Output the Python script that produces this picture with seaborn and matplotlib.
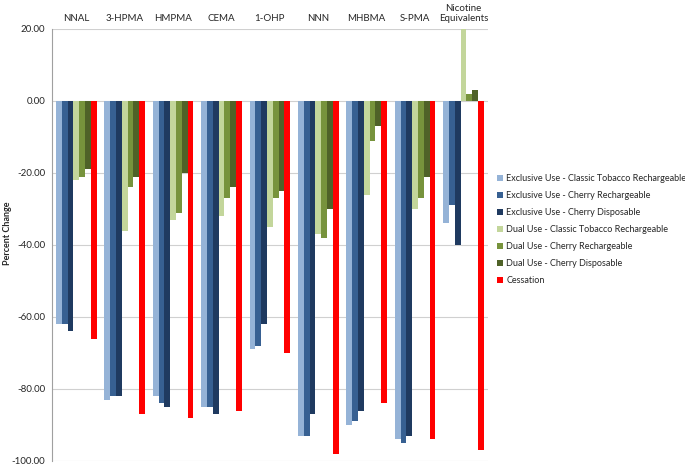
import pandas as pd
import matplotlib
matplotlib.use("Agg")
import matplotlib.pyplot as plt
import seaborn as sns

# Biomarkers (categories along the top)
biomarkers = ["NNAL", "3-HPMA", "HMPMA", "CEMA", "1-OHP", "NNN", "MHBMA", "S-PMA",
              "Nicotine\nEquivalents"]

groups = [
    "Exclusive Use - Classic Tobacco Rechargeable",
    "Exclusive Use - Cherry Rechargeable",
    "Exclusive Use - Cherry Disposable",
    "Dual Use - Classic Tobacco Rechargeable",
    "Dual Use - Cherry Rechargeable",
    "Dual Use - Cherry Disposable",
    "Cessation",
]

# Percent change per group, one value per biomarker
excl_classic = [-62, -83, -82, -85, -69, -93, -90, -94, -34]
excl_cherry_rech = [-62, -82, -84, -85, -68, -93, -89, -95, -29]
excl_cherry_disp = [-64, -82, -85, -87, -62, -87, -86, -93, -40]
dual_classic = [-22, -36, -33, -32, -35, -37, -26, -30, 20]
dual_cherry_rech = [-21, -24, -31, -27, -27, -38, -11, -27, 2]
dual_cherry_disp = [-19, -21, -20, -24, -25, -30, -7, -21, 3]
cessation = [-66, -87, -88, -86, -70, -98, -84, -94, -97]

series = [excl_classic, excl_cherry_rech, excl_cherry_disp,
          dual_classic, dual_cherry_rech, dual_cherry_disp, cessation]

colors = ["#95B3D7", "#376092", "#1F3A60", "#C3D69B", "#77933C", "#4F6228", "#FF0000"]

rows = []
for g, vals in zip(groups, series):
    for b, v in zip(biomarkers, vals):
        rows.append({"Biomarker": b, "Group": g, "Change": v})
df = pd.DataFrame(rows)

sns.set_style("white")
plt.rcParams["font.family"] = ["Lato", "DejaVu Sans"]

fig = plt.figure(figsize=(6.85, 4.67), dpi=100)
ax = fig.add_axes([0.076, 0.013, 0.636, 0.925])

sns.barplot(data=df, x="Biomarker", y="Change", hue="Group", order=biomarkers,
            hue_order=groups, palette=colors, width=0.84, gap=0,
            saturation=1, linewidth=0, edgecolor="none", ax=ax, legend=True)

ax.set_ylim(-100, 20)
ax.set_xlim(-0.5, len(biomarkers) - 0.5)
ax.set_yticks(range(-100, 21, 20))
ax.set_yticklabels([f"{v:.2f}" for v in range(-100, 21, 20)], fontsize=7)
ax.yaxis.grid(True, color="#D0D0D0", linewidth=0.8)
ax.set_axisbelow(True)

ax.xaxis.tick_top()
ax.tick_params(axis="x", length=0, labelsize=7, pad=4)
ax.tick_params(axis="y", length=3, color="#A0A0A0", pad=2)
ax.set_xlabel("")
ax.set_ylabel("")
fig.text(0.005, 0.5, "Percent Change", rotation=90, va="center", ha="left",
         fontsize=6.5, fontweight="bold")

for s in ["top", "right", "bottom"]:
    ax.spines[s].set_visible(False)
ax.spines["left"].set_color("#A0A0A0")
ax.spines["left"].set_linewidth(0.8)

handles, labels = ax.get_legend_handles_labels()
ax.legend(handles, labels, loc="upper left", bbox_to_anchor=(1.012, 0.672),
          frameon=False, fontsize=6.5, handlelength=0.7, handleheight=0.7,
          handletextpad=0.4, labelspacing=0.88, borderaxespad=0)

fig.savefig("out.png", dpi=100)
